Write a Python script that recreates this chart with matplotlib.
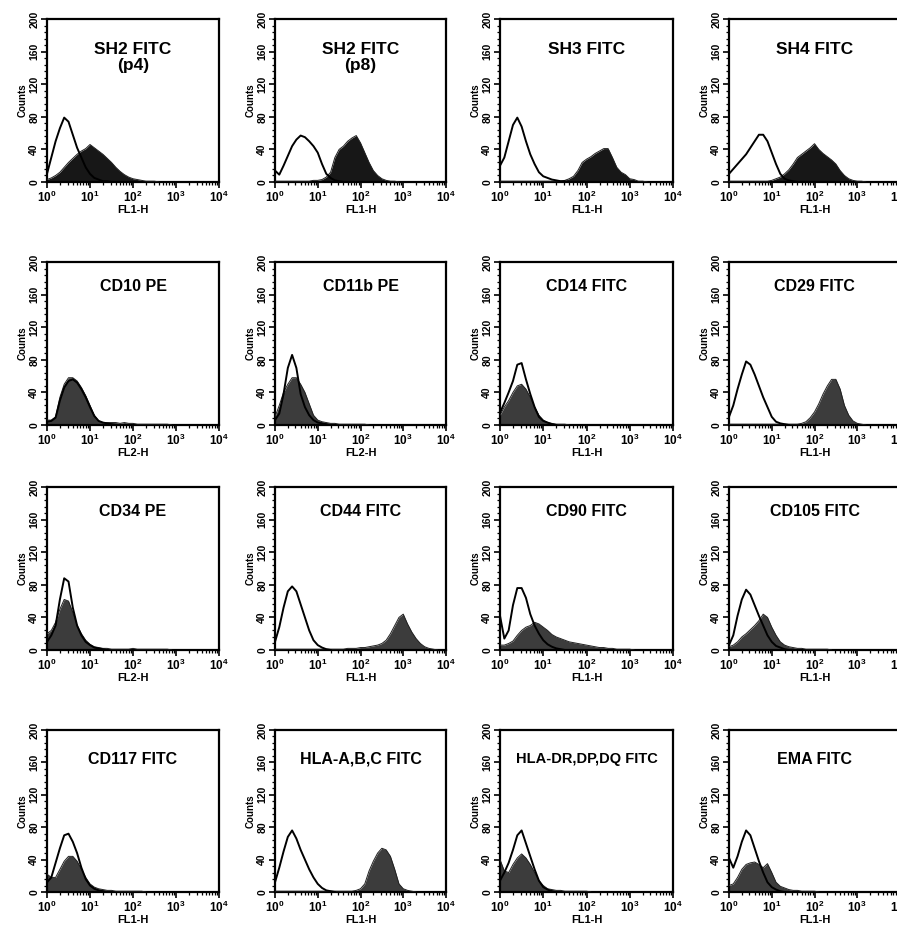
import numpy as np
import matplotlib.pyplot as plt
from matplotlib.ticker import FixedLocator, FixedFormatter, MultipleLocator, NullFormatter

plt.rcParams['font.family'] = ['Liberation Sans Narrow', 'Liberation Sans', 'DejaVu Sans']
plt.rcParams['font.weight'] = 'bold'
plt.rcParams['mathtext.fontset'] = 'custom'
plt.rcParams['mathtext.bf'] = 'Liberation Sans:bold'
plt.rcParams['mathtext.rm'] = 'Liberation Sans:bold'

# fluorescence channel, log10 units (0 .. 4 decades)
log_channel = [0.0, 0.1, 0.2, 0.3, 0.4, 0.5, 0.6, 0.7, 0.8, 0.9,
               1.0, 1.1, 1.2, 1.3, 1.4, 1.5, 1.6, 1.7, 1.8, 1.9,
               2.0, 2.1, 2.2, 2.3, 2.4, 2.5, 2.6, 2.7, 2.8, 2.9,
               3.0, 3.1, 3.2, 3.3, 3.4, 3.5, 3.6, 3.7, 3.8, 3.9, 4.0]

titles = ['SH2 FITC\n(p4)', 'SH2 FITC\n(p8)', 'SH3 FITC', 'SH4 FITC',
          'CD10 PE', 'CD11b PE', 'CD14 FITC', 'CD29 FITC',
          'CD34 PE', 'CD44 FITC', 'CD90 FITC', 'CD105 FITC',
          'CD117 FITC', 'HLA-A,B,C FITC', 'HLA-DR,DP,DQ FITC', 'EMA FITC']
channels = ['FL1-H', 'FL1-H', 'FL1-H', 'FL1-H',
            'FL2-H', 'FL2-H', 'FL1-H', 'FL1-H',
            'FL2-H', 'FL1-H', 'FL1-H', 'FL1-H',
            'FL1-H', 'FL1-H', 'FL1-H', 'FL1-H']

# counts per channel: isotype control (open) and stained (filled)
sh2_p4_ctrl = [10, 30, 50, 66, 79, 74, 58, 42, 30, 18, 10, 5, 3, 1, 1, 0]
sh2_p4_pos = [3, 5, 8, 12, 18, 24, 29, 34, 38, 41, 46, 42, 38, 34, 29, 24, 18, 13, 9, 6,
              4, 3, 2, 1, 1, 1, 0]
sh2_p8_ctrl = [14, 9, 20, 32, 44, 52, 57, 55, 50, 44, 36, 22, 10, 5, 2, 1, 0]
sh2_p8_pos = [1, 1, 1, 1, 1, 1, 1, 1, 1, 2, 2, 3, 6, 12, 30, 40, 44, 50, 54, 57,
              48, 36, 24, 14, 8, 4, 2, 1, 1, 0]
sh3_ctrl = [20, 30, 50, 70, 79, 68, 50, 34, 22, 12, 7, 5, 3, 2, 1, 1, 0]
sh3_pos = [1, 1, 1, 1, 1, 1, 1, 1, 1, 1, 1, 1, 1, 1, 1, 2, 4, 7, 14, 24,
           28, 31, 35, 38, 41, 41, 30, 18, 12, 9, 4, 3, 1, 1, 0]
sh4_ctrl = [10, 16, 22, 28, 34, 42, 50, 58, 58, 50, 36, 22, 10, 4, 2, 1, 0]
sh4_pos = [1, 1, 1, 1, 1, 1, 1, 1, 1, 1, 2, 4, 6, 10, 15, 22, 30, 34, 38, 42,
           47, 40, 35, 31, 27, 22, 14, 8, 4, 2, 1, 1, 0]

cd10_ctrl = [4, 5, 9, 30, 46, 54, 56, 52, 44, 34, 22, 11, 5, 3, 2, 1, 0]
cd10_pos = [6, 6, 10, 34, 50, 58, 58, 54, 46, 36, 24, 12, 5, 3, 3, 3, 3, 2, 3, 2,
            2, 1, 1, 1, 1, 1, 1, 1, 1, 0]
cd11b_ctrl = [6, 14, 38, 70, 86, 70, 38, 22, 12, 6, 3, 2, 1, 0]
cd11b_pos = [10, 24, 40, 50, 58, 58, 50, 40, 26, 12, 6, 4, 3, 2, 2, 1, 1, 1, 1, 1,
             1, 1, 0]
cd14_ctrl = [15, 27, 40, 54, 74, 76, 56, 38, 22, 10, 5, 3, 1, 0]
cd14_pos = [12, 22, 30, 40, 48, 50, 44, 34, 22, 12, 6, 3, 2, 1, 1, 1, 0]
cd29_ctrl = [10, 24, 44, 62, 78, 74, 62, 48, 34, 22, 10, 4, 2, 1, 0]
cd29_pos = [1, 1, 1, 1, 1, 1, 1, 1, 1, 1, 1, 1, 1, 1, 1, 1, 1, 2, 4, 9,
            16, 26, 38, 48, 56, 56, 44, 24, 12, 5, 2, 1, 0]

cd34_ctrl = [10, 18, 30, 62, 88, 84, 52, 30, 18, 10, 6, 3, 2, 1, 0]
cd34_pos = [20, 24, 34, 50, 62, 60, 46, 30, 20, 12, 7, 4, 3, 2, 2, 1, 1, 1, 1, 1,
            2, 1, 1, 1, 1, 1, 1, 1, 1, 0]
cd44_ctrl = [10, 28, 52, 72, 78, 72, 56, 40, 24, 12, 6, 3, 1, 0]
cd44_pos = [1, 1, 1, 1, 1, 1, 1, 1, 1, 1, 1, 1, 1, 1, 1, 1, 1, 2, 2, 2,
            3, 3, 4, 5, 6, 8, 12, 20, 30, 40, 44, 32, 22, 14, 8, 4, 2, 1, 0]
cd90_ctrl = [42, 14, 24, 55, 76, 76, 64, 44, 30, 20, 12, 7, 4, 2, 1, 0]
cd90_pos = [6, 6, 8, 11, 18, 24, 28, 30, 34, 32, 28, 24, 19, 16, 14, 12, 10, 9, 8, 7,
            6, 5, 4, 3, 3, 2, 2, 1, 1, 1, 1, 0]
cd105_ctrl = [6, 18, 42, 62, 74, 68, 55, 42, 30, 18, 10, 5, 3, 1, 0]
cd105_pos = [4, 6, 10, 16, 20, 25, 30, 36, 44, 40, 28, 18, 10, 6, 4, 3, 2, 2, 1, 1,
             1, 1, 1, 1, 0]

cd117_ctrl = [12, 18, 36, 54, 70, 72, 62, 48, 30, 16, 8, 4, 2, 1, 0]
cd117_pos = [22, 18, 18, 28, 38, 44, 44, 38, 28, 18, 10, 6, 4, 3, 2, 2, 1, 1, 1, 1,
             1, 1, 1, 0]
hla_abc_ctrl = [12, 30, 50, 68, 76, 66, 52, 40, 28, 18, 10, 5, 2, 1, 0]
hla_abc_pos = [1, 1, 1, 1, 1, 1, 1, 1, 1, 1, 1, 1, 1, 1, 1, 1, 1, 1, 1, 2,
               4, 10, 26, 38, 48, 54, 52, 44, 28, 10, 4, 2, 1, 0]
hla_dr_ctrl = [14, 24, 36, 52, 70, 76, 60, 44, 28, 14, 6, 3, 1, 0]
hla_dr_pos = [40, 26, 24, 34, 42, 47, 42, 34, 24, 14, 8, 4, 3, 2, 2, 1, 1, 1, 1, 1,
              1, 0]
ema_ctrl = [42, 30, 44, 62, 76, 70, 54, 38, 24, 12, 6, 3, 1, 0]
ema_pos = [8, 10, 18, 28, 34, 36, 37, 34, 30, 35, 24, 12, 7, 5, 3, 2, 2, 1, 1, 1,
           1, 0]

controls = [sh2_p4_ctrl, sh2_p8_ctrl, sh3_ctrl, sh4_ctrl,
            cd10_ctrl, cd11b_ctrl, cd14_ctrl, cd29_ctrl,
            cd34_ctrl, cd44_ctrl, cd90_ctrl, cd105_ctrl,
            cd117_ctrl, hla_abc_ctrl, hla_dr_ctrl, ema_ctrl]
stained = [sh2_p4_pos, sh2_p8_pos, sh3_pos, sh4_pos,
           cd10_pos, cd11b_pos, cd14_pos, cd29_pos,
           cd34_pos, cd44_pos, cd90_pos, cd105_pos,
           cd117_pos, hla_abc_pos, hla_dr_pos, ema_pos]

W, H = 897, 933
col_left = [47, 275, 500, 729]
col_width = [172, 171, 173, 171]
row_top = [19, 262, 487, 730]
row_bottom = [182, 425, 650, 892]

fig = plt.figure(figsize=(W / 100, H / 100), dpi=100)

decade_labels = [r'$\mathbf{10^{%d}}$' % d for d in range(5)]
minor_x = [m * 10 ** d for d in range(4) for m in range(2, 10)]

for i in range(16):
    r, c = divmod(i, 4)
    ax = fig.add_axes([col_left[c] / W, 1 - row_bottom[r] / H,
                       col_width[c] / W, (row_bottom[r] - row_top[r]) / H])
    lc = np.array(log_channel)
    ctrl = controls[i]
    pos = stained[i]
    xc = 10 ** lc[:len(ctrl)]
    xp = 10 ** lc[:len(pos)]

    fill_col = '#171717' if r == 0 else '#3c3c3c'
    ax.fill_between(xp, 0, pos, color=fill_col, lw=0, zorder=2)
    ax.plot(xp, pos, color='#202020', lw=0.7, zorder=3)
    ax.plot(xc, ctrl, color='black', lw=1.4, zorder=4)

    ax.set_xscale('log')
    ax.set_xlim(1, 1e4)
    ax.set_ylim(0, 200)

    ax.xaxis.set_major_locator(FixedLocator([1, 10, 100, 1000, 10000]))
    ax.xaxis.set_major_formatter(FixedFormatter(decade_labels))
    ax.xaxis.set_minor_locator(FixedLocator(minor_x))
    ax.xaxis.set_minor_formatter(NullFormatter())
    ax.yaxis.set_major_locator(FixedLocator([0, 40, 80, 120, 160, 200]))
    ax.yaxis.set_minor_locator(MultipleLocator(8))

    ax.tick_params(axis='both', which='major', direction='out', length=4, width=1.2,
                   labelsize=8.5, pad=1.5)
    ax.tick_params(axis='both', which='minor', direction='out', length=2, width=0.9)
    for lab in ax.get_yticklabels():
        lab.set_rotation(90)
        lab.set_va('center')
        lab.set_fontsize(7.5)
        lab.set_fontweight('bold')

    for s in ax.spines.values():
        s.set_linewidth(1.6)

    ax.set_xlabel(channels[i], fontsize=8, fontweight='bold', labelpad=0)
    ax.set_ylabel('Counts', fontsize=7, fontweight='bold', labelpad=1)

    if r == 0:
        ax.text(0.5, 0.86, titles[i], transform=ax.transAxes, ha='center', va='top',
                fontsize=12.5, fontweight='bold', linespacing=1.1,
                family=['Liberation Sans Narrow', 'Liberation Sans', 'DejaVu Sans'])
    else:
        ty = 0.85 if r < 3 else 0.82
        fs = 10.5 if len(titles[i]) > 14 else 11.5
        ax.text(0.5, ty, titles[i], transform=ax.transAxes, ha='center', va='center',
                fontsize=fs, fontweight='bold',
                family=['Liberation Sans', 'DejaVu Sans'])

fig.savefig('out.png', dpi=100)
